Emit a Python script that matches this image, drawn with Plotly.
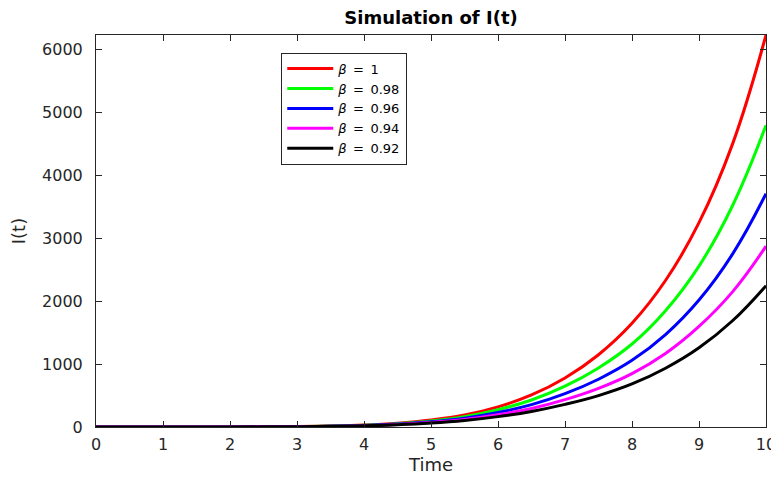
import plotly.graph_objects as go

t = [0, 1, 2, 3, 4, 4.5, 5, 5.5, 6, 6.5, 7, 7.5, 8, 8.5, 9, 9.5, 10]
i_b100 = [0, 0.5, 2, 8, 32, 60, 110, 190, 320, 510, 780, 1150, 1650, 2330, 3250, 4500, 6236]
i_b098 = [0, 0.4, 1.8, 7, 28, 53, 95, 165, 275, 430, 650, 940, 1320, 1850, 2560, 3520, 4800]
i_b096 = [0, 0.35, 1.6, 6, 24, 46, 82, 140, 230, 355, 530, 760, 1060, 1470, 2020, 2750, 3711]
i_b094 = [0, 0.3, 1.4, 5.5, 21, 40, 72, 120, 195, 295, 435, 615, 850, 1170, 1600, 2150, 2876]
i_b092 = [0, 0.25, 1.2, 5, 18, 35, 62, 103, 165, 248, 360, 500, 685, 935, 1260, 1690, 2249]

sp = "\u2002"
series = [
    (f"<i>β</i>{sp}={sp}1", i_b100, "#ff0000"),
    (f"<i>β</i>{sp}={sp}0.98", i_b098, "#00ff00"),
    (f"<i>β</i>{sp}={sp}0.96", i_b096, "#0000ff"),
    (f"<i>β</i>{sp}={sp}0.94", i_b094, "#ff00ff"),
    (f"<i>β</i>{sp}={sp}0.92", i_b092, "#000000"),
]

x_ticks = list(range(0, 11))
y_ticks = [0, 1000, 2000, 3000, 4000, 5000, 6000]

fig = go.Figure()
for name, vals, col in series:
    fig.add_trace(go.Scatter(x=t, y=vals, mode="lines", name=name,
                             line=dict(color=col, width=3, shape="spline", smoothing=1.2)))

font_fam = "DejaVu Sans, Verdana, sans-serif"
axis_common = dict(showline=True, linecolor="#262626", linewidth=1, mirror="ticks",
                   ticks="inside", ticklen=6, tickcolor="#262626", showgrid=False,
                   zeroline=False, automargin=False, ticklabeloverflow="allow",
                   tickfont=dict(family=font_fam, size=16, color="#262626"))

# the page body adds an 8px offset; the figure is sized to fill the rest
W, H = 771, 469
fig.update_layout(
    width=W, height=H,
    margin=dict(l=88, r=13, t=27, b=50, pad=0),
    paper_bgcolor="white", plot_bgcolor="white",
    title=dict(text="<b>Simulation of I(t)</b>", x=0.5, xref="paper", xanchor="center",
               y=1 - 10/H, yref="container", yanchor="middle",
               font=dict(family=font_fam, size=18, color="black")),
    xaxis=dict(range=[0, 10], tickvals=x_ticks, ticklabelstandoff=3,
               title=dict(text="Time", standoff=4,
                          font=dict(family=font_fam, size=18, color="#262626")),
               **axis_common),
    yaxis=dict(range=[0, 6236], tickvals=y_ticks, ticklabelstandoff=9,
               title=dict(text="I(t)", standoff=12,
                          font=dict(family=font_fam, size=18, color="#262626")),
               **axis_common),
    legend=dict(x=0.2765, y=0.955, xanchor="left", yanchor="top",
                bordercolor="#262626", borderwidth=1, bgcolor="white",
                font=dict(family=font_fam, size=13, color="black"),
                tracegroupgap=0, itemwidth=46),
    showlegend=True,
)

fig.write_html("out.html")
